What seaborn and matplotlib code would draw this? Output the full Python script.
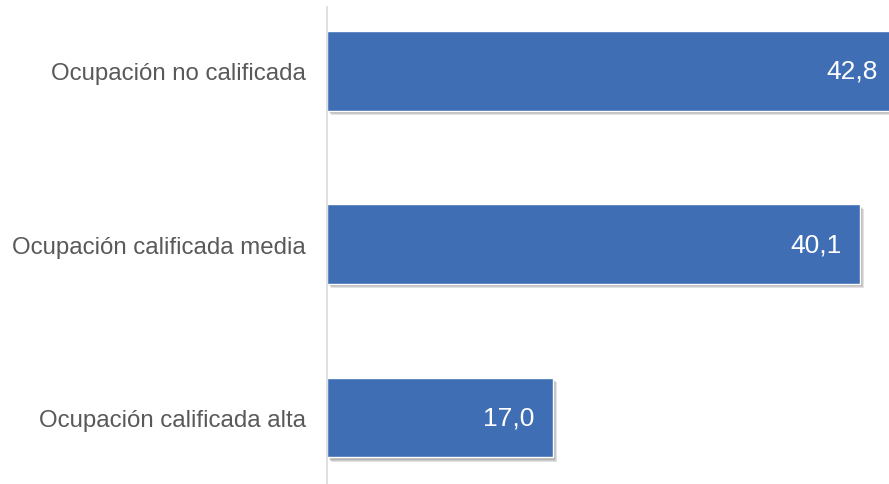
import matplotlib
matplotlib.use('Agg')
import matplotlib.pyplot as plt
import matplotlib.patheffects as pe
import pandas as pd
import seaborn as sns

# --- datos ---
categorias = ['Ocupación no calificada', 'Ocupación calificada media', 'Ocupación calificada alta']
valores = [42.8, 40.1, 17.0]
etiquetas = ['42,8', '40,1', '17,0']

COLOR_BARRA = '#3F6EB5'

df = pd.DataFrame({'categoria': categorias, 'valor': valores})

sns.set_style('white')
plt.rcParams['font.family'] = ['Liberation Sans', 'DejaVu Sans']

fig = plt.figure(figsize=(8.89, 4.85), dpi=100)
ax = fig.add_axes([327 / 889, 0, 1 - 327 / 889, 1 - 8 / 485])

sns.barplot(data=df, x='valor', y='categoria', orient='h', color=COLOR_BARRA,
            width=0.46, saturation=1, ax=ax)

# sombra difusa (varias capas suaves)
sombra = [pe.SimplePatchShadow(offset=(d, -d), shadow_rgbFace='#505050', alpha=0.16)
          for d in (0.8, 1.6, 2.4, 3.2)]
for barra in ax.patches:
    barra.set_path_effects(sombra + [pe.Normal()])

# etiquetas de valor dentro de la barra
for i, (v, t) in enumerate(zip(valores, etiquetas)):
    ax.annotate(t, xy=(v, i), xytext=(-13, 0), textcoords='offset points',
                ha='right', va='center', color='white', fontsize=19,
                annotation_clip=False)

ax.set_xlim(0, 562 / 13.29)
ax.set_ylim(2.384, -0.369)
ax.set_xlabel('')
ax.set_ylabel('')
ax.set_xticks([])
ax.tick_params(axis='y', length=0, pad=15, labelsize=17.3, labelcolor='#595959')

for lado in ['top', 'right', 'bottom']:
    ax.spines[lado].set_visible(False)
ax.spines['left'].set_color('#D9D9D9')
ax.spines['left'].set_linewidth(1.2)

fig.savefig('out.png', dpi=100)
